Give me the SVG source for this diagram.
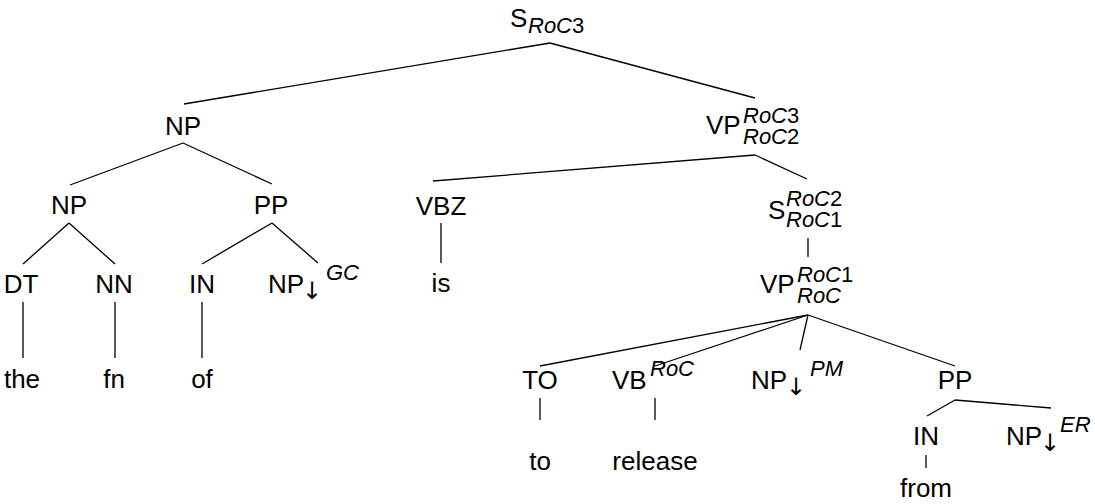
<svg xmlns="http://www.w3.org/2000/svg" width="1095" height="504" viewBox="0 0 1095 504">
<style>
text{font-family:"Liberation Sans",Arial,sans-serif;font-size:26px;fill:#000}
.s{font-size:22px;font-style:italic}
.u{font-style:normal}
.a{font-family:"DejaVu Sans",sans-serif;font-size:24px}
line{stroke:#000;stroke-width:1.3}
</style>
<rect width="1095" height="504" fill="#fff"/>
<g id="connectors">
<line x1="550" y1="43" x2="184" y2="104"/>
<line x1="550" y1="43" x2="755" y2="98"/>
<line x1="183" y1="143" x2="70" y2="185"/>
<line x1="183" y1="143" x2="272" y2="184"/>
<line x1="69" y1="223" x2="23" y2="264"/>
<line x1="69" y1="223" x2="115" y2="264"/>
<line x1="272" y1="223" x2="202" y2="264"/>
<line x1="272" y1="223" x2="318" y2="263"/>
<line x1="23" y1="302" x2="23" y2="358"/>
<line x1="115" y1="302" x2="115" y2="358"/>
<line x1="202" y1="302" x2="202" y2="358"/>
<line x1="755" y1="155" x2="433" y2="181"/>
<line x1="755" y1="155" x2="807" y2="179"/>
<line x1="441" y1="223" x2="441" y2="263"/>
<line x1="808" y1="238" x2="808" y2="257"/>
<line x1="808" y1="315" x2="540" y2="366"/>
<line x1="808" y1="315" x2="655" y2="366"/>
<line x1="808" y1="315" x2="800" y2="350"/>
<line x1="808" y1="315" x2="955" y2="366"/>
<line x1="540" y1="398" x2="540" y2="420"/>
<line x1="655" y1="398" x2="655" y2="420"/>
<line x1="955" y1="400" x2="927" y2="416"/>
<line x1="955" y1="400" x2="1051" y2="408"/>
<line x1="926" y1="455" x2="926" y2="468"/>
</g>
<g id="n-s"><text x="510" y="27">S</text><text class="s" x="528" y="33">RoC<tspan class="u">3</tspan></text></g>
<g id="n-np1"><text x="183" y="135" text-anchor="middle">NP</text></g>
<g id="n-vp1"><text x="706" y="134">VP</text><text class="s" x="743" y="123">RoC<tspan class="u">3</tspan></text><text class="s" x="743" y="144">RoC<tspan class="u">2</tspan></text></g>
<g id="n-np2"><text x="69" y="214" text-anchor="middle">NP</text></g>
<g id="n-pp1"><text x="271" y="214" text-anchor="middle">PP</text></g>
<g id="n-vbz"><text x="441" y="215" text-anchor="middle">VBZ</text></g>
<g id="n-s2"><text x="768" y="219">S</text><text class="s" x="786" y="206">RoC<tspan class="u">2</tspan></text><text class="s" x="786" y="227">RoC<tspan class="u">1</tspan></text></g>
<g id="n-dt"><text x="21" y="293" text-anchor="middle">DT</text></g>
<g id="n-nn"><text x="114" y="293" text-anchor="middle">NN</text></g>
<g id="n-in1"><text x="202" y="293" text-anchor="middle">IN</text></g>
<g id="n-npgc"><text x="268" y="293">NP</text><text class="a" x="302" y="299">↓</text><text class="s" x="326" y="280">GC</text></g>
<g id="n-is"><text x="441" y="292" text-anchor="middle">is</text></g>
<g id="n-vp2"><text x="760" y="293">VP</text><text class="s" x="797" y="282">RoC<tspan class="u">1</tspan></text><text class="s" x="797" y="303">RoC</text></g>
<g id="n-the"><text x="22" y="388" text-anchor="middle">the</text></g>
<g id="n-fn"><text x="114" y="388" text-anchor="middle">fn</text></g>
<g id="n-of"><text x="202" y="388" text-anchor="middle">of</text></g>
<g id="n-to"><text x="540" y="389" text-anchor="middle">TO</text></g>
<g id="n-vb"><text x="612" y="389">VB</text><text class="s" x="650" y="376">RoC</text></g>
<g id="n-nppm"><text x="751" y="389">NP</text><text class="a" x="786" y="395">↓</text><text class="s" x="810" y="376">PM</text></g>
<g id="n-pp2"><text x="955" y="389" text-anchor="middle">PP</text></g>
<g id="n-too"><text x="540" y="470" text-anchor="middle">to</text></g>
<g id="n-release"><text x="655" y="470" text-anchor="middle">release</text></g>
<g id="n-in2"><text x="926" y="445" text-anchor="middle">IN</text></g>
<g id="n-nper"><text x="1006" y="445">NP</text><text class="a" x="1040" y="451">↓</text><text class="s" x="1060" y="432">ER</text></g>
<g id="n-from"><text x="926" y="497" text-anchor="middle">from</text></g>
</svg>
